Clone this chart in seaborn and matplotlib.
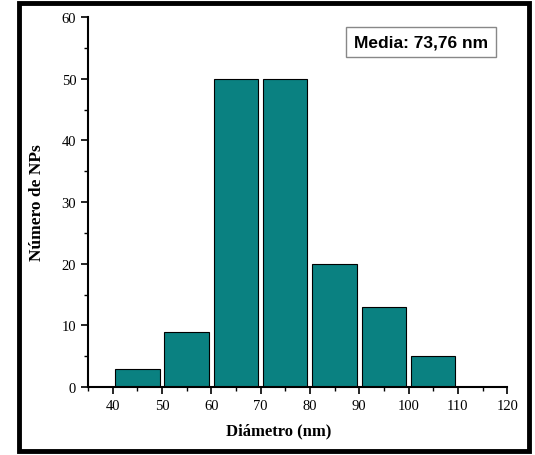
import numpy as np
import matplotlib
matplotlib.use('Agg')
import matplotlib.pyplot as plt
import matplotlib.patches as mpatches
from matplotlib.ticker import MultipleLocator
import seaborn as sb

# histogram data
bin_centers = [45, 55, 65, 75, 85, 95, 105]
counts = [3, 9, 50, 50, 20, 13, 5]
bin_edges = [40, 50, 60, 70, 80, 90, 100, 110]
mean_label = 'Media: 73,76 nm'

sb.set_style('ticks')
plt.rcParams['font.family'] = ['Liberation Serif', 'DejaVu Serif']
plt.rcParams['text.color'] = 'black'
plt.rcParams['axes.labelcolor'] = 'black'

fig = plt.figure(figsize=(5.35, 4.56), dpi=100)
ax = fig.add_axes([0.1645, 0.149, 0.7835, 0.8115])

sb.histplot(x=bin_centers, weights=counts, bins=bin_edges, shrink=0.9,
            color='#0a8181', edgecolor='black', linewidth=0.8, alpha=1,
            ax=ax)

ax.set_xlim(35, 120)
ax.set_ylim(0, 60)
ax.xaxis.set_minor_locator(MultipleLocator(5))
ax.yaxis.set_major_locator(MultipleLocator(10))
ax.yaxis.set_minor_locator(MultipleLocator(5))
ax.set_xticks(range(40, 121, 10))
ax.tick_params(which='major', direction='out', length=5, width=1.2,
               labelsize=10.5, colors='black')
ax.tick_params(which='minor', direction='out', length=3, width=1.0,
               colors='black')
for s in ['left', 'bottom']:
    ax.spines[s].set_linewidth(1.5)
    ax.spines[s].set_color('black')
sb.despine(ax=ax)

ax.set_xlabel('Diámetro (nm)', fontsize=12, fontweight='bold')
ax.xaxis.set_label_coords(0.455, -0.095)
ax.set_ylabel('Número de NPs', fontsize=12.5, fontweight='bold', labelpad=12)

ax.text(0.795, 0.932, mean_label, transform=ax.transAxes,
        ha='center', va='center', fontsize=12.5, fontweight='bold',
        color='black', family=['Liberation Sans', 'DejaVu Sans'],
        bbox=dict(boxstyle='square,pad=0.45', facecolor='white',
                  edgecolor='#888888', linewidth=1))

# thick black frame round the whole picture
frame = mpatches.Rectangle((0.036, 0.009), 0.952, 0.982,
                           transform=fig.transFigure, fill=False,
                           edgecolor='black', linewidth=3.5)
fig.patches.append(frame)

fig.savefig('out.png', dpi=100)
